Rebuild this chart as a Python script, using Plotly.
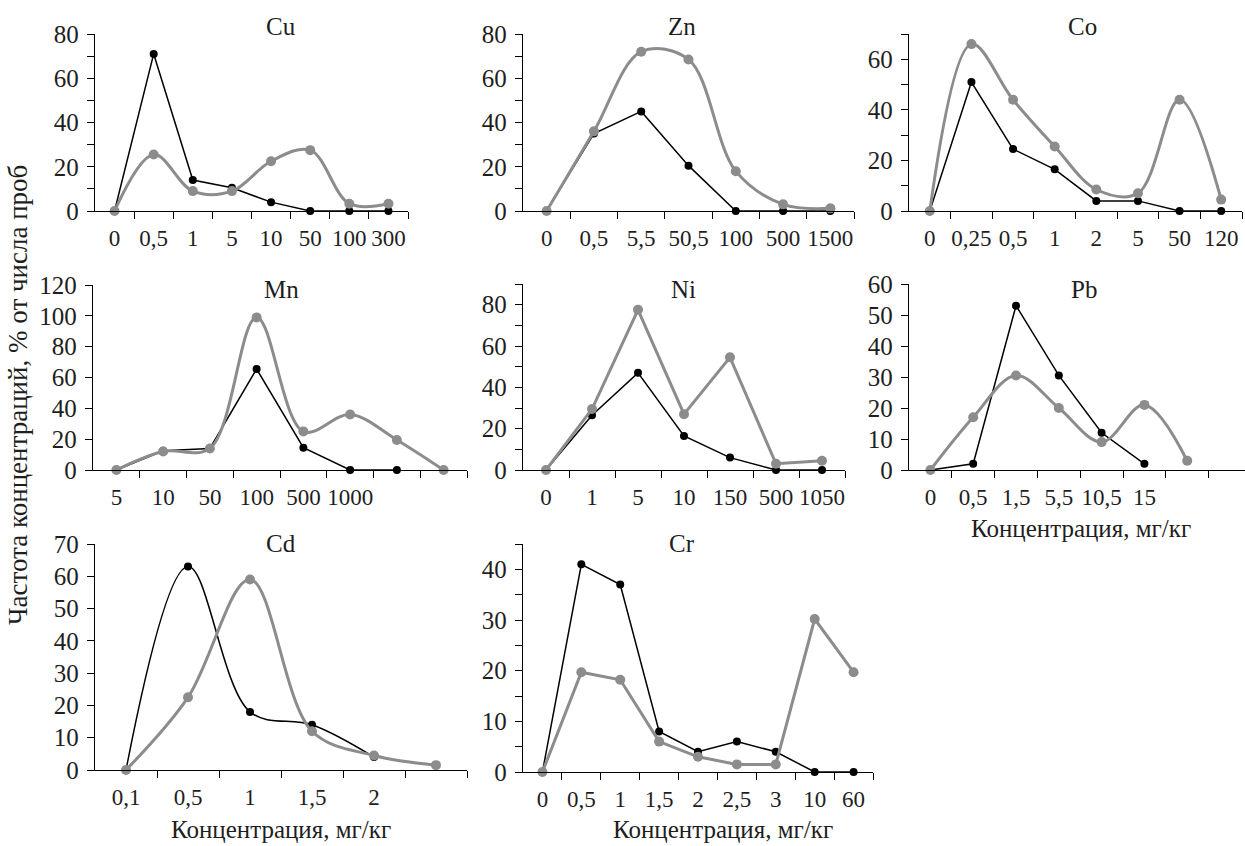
import plotly.graph_objects as go

W, H = 1245, 846
FONT = "Liberation Serif, Times New Roman, Times, serif"
INK = "#1e1e1e"
GRAY = "#8c8c8c"

# ---------------- data ----------------
cu_labels = ["0", "0,5", "1", "5", "10", "50", "100", "300"]
cu_black = [0, 71, 14, 10.5, 4, 0, 0, 0]
cu_gray = [0, 25.5, 9, 9, 22.5, 27.5, 3.3, 3.3]

zn_labels = ["0", "0,5", "5,5", "50,5", "100", "500", "1500"]
zn_black = [0, 35, 45, 20.5, 0, 0, 0]
zn_gray = [0, 36, 72, 68.5, 18, 3, 1.2]

co_labels = ["0", "0,25", "0,5", "1", "2", "5", "50", "120"]
co_black = [0, 51, 24.5, 16.5, 4, 4, 0, 0]
co_gray = [0, 66, 44, 25.5, 8.5, 7, 44, 4.5]

mn_labels = ["5", "10", "50", "100", "500", "1000", "", ""]
mn_black = [0, 12.5, 14, 65.5, 14.5, 0, 0]
mn_gray = [0, 12, 14, 99, 25, 36, 19.5, 0]

ni_labels = ["0", "1", "5", "10", "150", "500", "1050"]
ni_black = [0, 26.5, 47, 16.5, 6, 0, 0]
ni_gray = [0, 29.5, 77.5, 27, 54.5, 3, 4.5]

pb_labels = ["0", "0,5", "1,5", "5,5", "10,5", "15", ""]
pb_black = [0, 2, 53, 30.5, 12, 2]
pb_gray = [0, 17, 30.5, 20, 9, 21, 3]

cd_labels = ["0,1", "0,5", "1", "1,5", "2", ""]
cd_black = [0, 63, 18, 14, 4]
cd_gray = [0, 22.5, 59, 12, 4.5, 1.5]

cr_labels = ["0", "0,5", "1", "1,5", "2", "2,5", "3", "10", "60"]
cr_black = [0, 41, 37, 8, 4, 6, 4, 0, 0]
cr_gray = [0, 19.7, 18.2, 6, 3, 1.5, 1.5, 30.2, 19.7]

x_title = "Концентрация, мг/кг"
y_title = "Частота концентраций, % от числа проб"

# ---------------- layout spec (pixels) ----------------
panels = [
    ("Cu", cu_labels, cu_black, cu_gray, False, True, 80, 20, 10, 95, 408, 34, 211, None, (281, 26)),
    ("Zn", zn_labels, zn_black, zn_gray, False, True, 80, 20, 10, 523, 854, 34, 211, None, (682, 26)),
    ("Co", co_labels, co_black, co_gray, False, True, 70, 20, 10, 909, 1242, 34, 211, None, (1082, 26)),
    ("Mn", mn_labels, mn_black, mn_gray, False, True, 120, 20, 20, 93, 467, 285, 470, None, (281, 290)),
    ("Ni", ni_labels, ni_black, ni_gray, False, False, 90, 20, 10, 523, 845, 284, 470, None, (683, 290)),
    ("Pb", pb_labels, pb_black, pb_gray, False, True, 60, 10, 10, 909, 1245, 284, 470, 7.35, (1084, 290)),
    ("Cd", cd_labels, cd_black, cd_gray, True, True, 70, 10, 10, 95, 467, 544, 770, None, (281, 543)),
    ("Cr", cr_labels, cr_black, cr_gray, False, False, 45, 10, 5, 523, 873, 544, 772, None, (682, 543)),
]

fig = go.Figure()
layout = dict(
    width=W, height=H,
    margin=dict(l=0, r=0, t=0, b=0, pad=0, autoexpand=False),
    paper_bgcolor="white", plot_bgcolor="white",
    showlegend=False,
    font=dict(family=FONT, color=INK, size=22),
)
annotations = []

for i, (name, labels, blk, gry, bspl, gspl, ymax, ydt, ymin, x0, x1, yt, yb, xend, txy) in enumerate(panels):
    k = i + 1
    xa = "x" if k == 1 else f"x{k}"
    ya = "y" if k == 1 else f"y{k}"
    n = len(labels)
    rend = xend if xend is not None else n - 0.5
    xs = list(range(n))
    fig.add_trace(go.Scatter(
        x=xs[:len(blk)], y=blk, xaxis=xa, yaxis=ya, mode="lines+markers",
        line=dict(color="black", width=1.5, shape="spline" if bspl else "linear", smoothing=1.0),
        marker=dict(color="black", size=8), cliponaxis=False, hoverinfo="skip"))
    fig.add_trace(go.Scatter(
        x=xs[:len(gry)], y=gry, xaxis=xa, yaxis=ya, mode="lines+markers",
        line=dict(color=GRAY, width=3, shape="spline" if gspl else "linear", smoothing=1.0),
        marker=dict(color=GRAY, size=10), cliponaxis=False, hoverinfo="skip"))

    bounds = [j + 0.5 for j in range(n) if j + 0.5 <= rend + 1e-9]
    layout["xaxis" if k == 1 else f"xaxis{k}"] = dict(
        domain=[x0 / W, x1 / W], anchor=ya, range=[-0.5, rend],
        showline=True, linecolor="black", linewidth=1.4,
        showgrid=False, zeroline=False, automargin=False,
        tickmode="array", tickvals=xs, ticktext=labels, ticks="",
        ticklabelstandoff=6,
        tickfont=dict(family=FONT, size=23, color=INK),
        minor=dict(tickmode="array", tickvals=bounds, ticks="outside", ticklen=7,
                   tickwidth=1.3, tickcolor="black", showgrid=False),
        fixedrange=True,
    )
    layout["yaxis" if k == 1 else f"yaxis{k}"] = dict(
        domain=[1 - yb / H, 1 - yt / H], anchor=xa, range=[0, ymax],
        showline=True, linecolor="black", linewidth=1.4,
        showgrid=False, zeroline=False, automargin=False,
        tickmode="linear", tick0=0, dtick=ydt, ticks="outside", ticklen=7,
        tickwidth=1.3, tickcolor="black", ticklabelstandoff=3,
        tickfont=dict(family=FONT, size=25, color=INK),
        minor=dict(tick0=0, dtick=ymin, ticks="outside", ticklen=7,
                   tickwidth=1.3, tickcolor="black", showgrid=False),
        fixedrange=True,
    )
    annotations.append(dict(
        text=name, x=txy[0] / W, y=1 - txy[1] / H, xref="paper", yref="paper",
        xanchor="center", yanchor="middle", showarrow=False,
        font=dict(family=FONT, size=25, color=INK)))

for (cx, cy) in [(1081, 528), (281, 829), (723, 829)]:
    annotations.append(dict(
        text=x_title, x=cx / W, y=1 - cy / H, xref="paper", yref="paper",
        xanchor="center", yanchor="middle", showarrow=False, borderpad=0,
        font=dict(family=FONT, size=25, color=INK)))

annotations.append(dict(
    text=y_title, x=18 / W, y=1 - 395 / H, xref="paper", yref="paper",
    xanchor="center", yanchor="middle", showarrow=False, textangle=-90,
    font=dict(family=FONT, size=27, color=INK)))

layout["annotations"] = annotations
fig.update_layout(**layout)
fig.write_html(
    "out.html",
    config={"displayModeBar": False},
    post_script="document.body.style.margin='0';document.body.style.padding='0';"
                "document.documentElement.style.overflow='hidden';",
)
